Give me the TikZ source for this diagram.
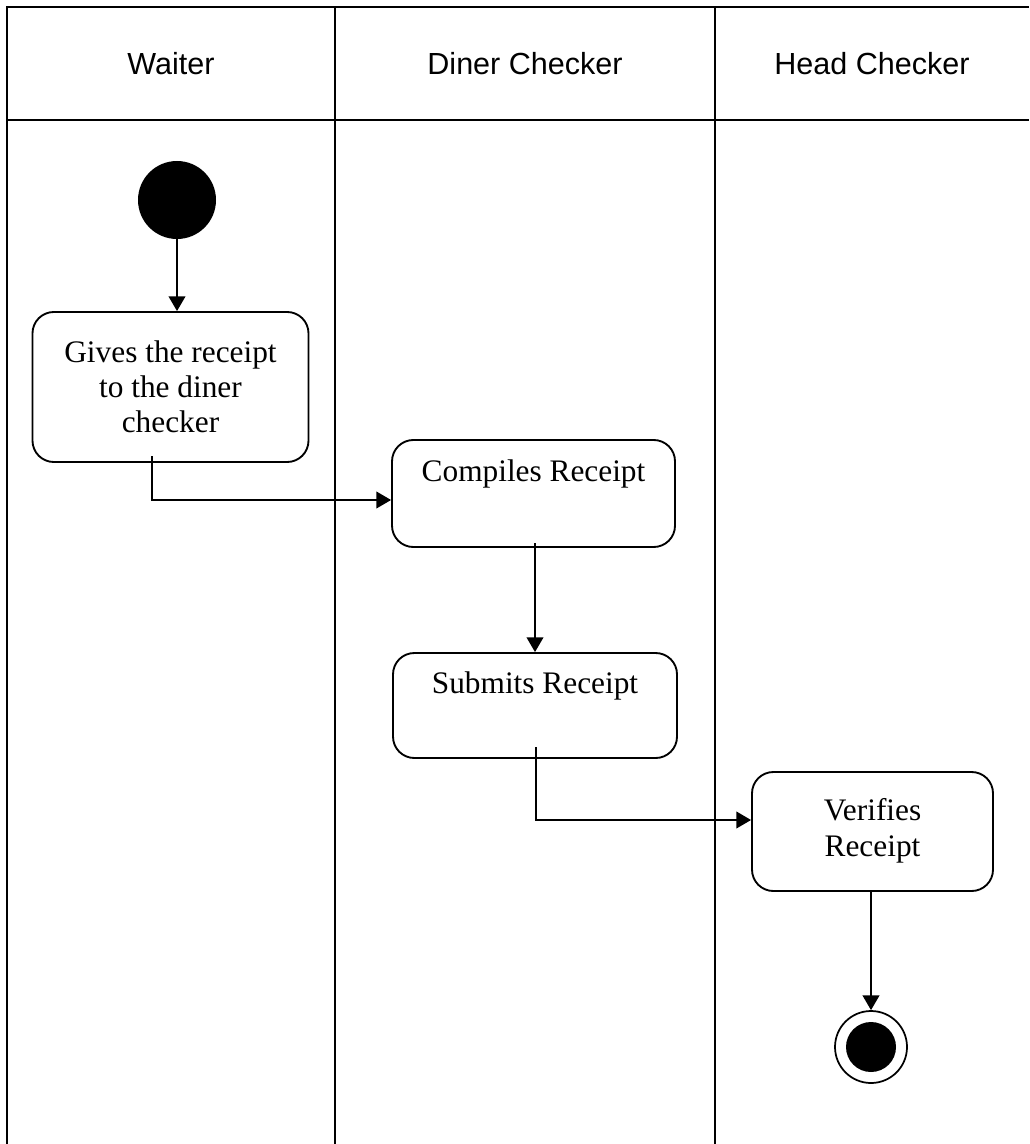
\documentclass[tikz,border=0pt]{standalone}
\usepackage{fontspec}
\setmainfont{Liberation Serif}
\newfontfamily\headfont{Liberation Sans}
\usetikzlibrary{arrows.meta}

\begin{document}
\begin{tikzpicture}[x=0.75pt,y=-0.75pt,
  lane/.style={line width=1.7pt},
  activity/.style={draw,line width=1.4pt,rounded corners=16pt,inner sep=0pt,
    align=center,font=\fontsize{23.5pt}{26.3pt}\selectfont},
  lanehead/.style={font=\headfont\fontsize{22.9pt}{27pt}\selectfont},
  flow/.style={line width=1.2pt,-{Triangle[length=11pt,width=12.5pt]}}]
  \useasboundingbox (0,0) rectangle (1029,1144);

  % swimlane frame
  \draw[lane] (7,1144) -- (7,7) -- (1029,7);
  \draw[lane] (7,120) -- (1029,120);
  \draw[lane] (335,7) -- (335,1144);
  \draw[lane] (715,7) -- (715,1144);

  % lane titles
  \node[lanehead] (hw) at (171,64) {Waiter};
  \node[lanehead] (hd) at (525,64) {Diner Checker};
  \node[lanehead] (hh) at (872,64) {Head Checker};

  % initial and final states
  \node[circle,fill=black,inner sep=0pt,minimum size=58.5pt] (start) at (177,200) {};
  \node[circle,draw,line width=1.3pt,inner sep=0pt,minimum size=54pt] (final) at (871,1047) {};
  \node[circle,fill=black,inner sep=0pt,minimum size=37.5pt] (finaldot) at (871,1047) {};

  % activities
  \node[activity,minimum width=207pt,minimum height=112.5pt] (give) at (170.5,387)
    {Gives the receipt\\to the diner\\checker};
  \node[activity,minimum width=212.25pt,minimum height=80.25pt] (compile) at (533.5,493.5)
    {Compiles Receipt\\\strut};
  \node[activity,minimum width=213pt,minimum height=78.75pt] (submit) at (535,705.5)
    {Submits Receipt\\\strut};
  \node[activity,minimum width=180.75pt,minimum height=89.25pt] (verify) at (872.5,831.5)
    {\raisebox{5pt}{\begin{tabular}{@{}c@{}}Verifies\\Receipt\end{tabular}}};

  % control flow
  \draw[flow] (start.south) -- (start.south |- give.north);

  \coordinate (give-out) at (152,456);
  \coordinate (give-bend) at (152,500);
  \draw[flow] (give-out) -- (give-bend) -- (give-bend -| compile.west);

  \coordinate (compile-out) at (535,543);
  \draw[flow] (compile-out) -- (compile-out |- submit.north);

  \coordinate (submit-out) at (536,747);
  \coordinate (submit-bend) at (536,820);
  \draw[flow] (submit-out) -- (submit-bend) -- (submit-bend -| verify.west);

  \draw[flow] (verify.south -| final.north) -- (final.north);
\end{tikzpicture}
\end{document}
